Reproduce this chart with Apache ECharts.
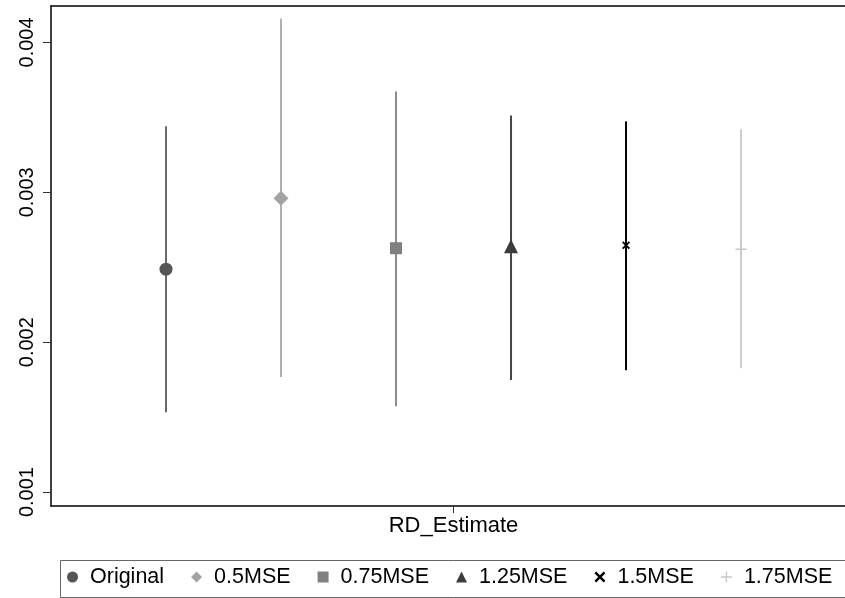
<!DOCTYPE html>
<html>
<head>
<meta charset="utf-8">
<script src="https://cdn.jsdelivr.net/npm/echarts@6/dist/echarts.min.js"></script>
<style>
  html, body { margin: 0; padding: 0; background: #fff; }
  #main { width: 845px; height: 598px; }
</style>
</head>
<body>
<div id="main"></div>
<script>
// 各规格名称与估计值
var names = ['Original', '0.5MSE', '0.75MSE', '1.25MSE', '1.5MSE', '1.75MSE'];
var slots = [1, 2, 3, 4, 5, 6];
var estimates = [0.002487, 0.00296, 0.002627, 0.00264, 0.002647, 0.00262];
var lowerCI = [0.001533, 0.001767, 0.001573, 0.001747, 0.001813, 0.001827];
var upperCI = [0.00344, 0.00416, 0.003673, 0.003513, 0.003473, 0.00342];
var yTicks = [0.001, 0.002, 0.003, 0.004];
var xLabel = 'RD_Estimate';

var colors = ['#555555', '#a3a3a3', '#808080', '#3c3c3c', '#000000', '#c8c8c8'];
var lineColors = ['#6a6a6a', '#b0b0b0', '#8c8c8c', '#444444', '#000000', '#cccccc'];
var symbols = [
	'circle',
	'diamond',
	'rect',
	'triangle',
	'path://M0,1.6L1.6,0L5,3.4L8.4,0L10,1.6L6.6,5L10,8.4L8.4,10L5,6.6L1.6,10L0,8.4L3.4,5Z',
	'path://M4.4,0H5.6V4.4H10V5.6H5.6V10H4.4V5.6H0V4.4H4.4Z'
];
var sizes = [13, 15, 12, 14, 8, 11];

var series = [];
for (var i = 0; i < names.length; i++) {
	// 置信区间竖线
	series.push({
		name: 'ci_' + i,
		type: 'line',
		data: [[slots[i], lowerCI[i]], [slots[i], upperCI[i]]],
		symbol: 'none',
		silent: true,
		lineStyle: { color: lineColors[i], width: 2 },
		z: 2
	});
	// 点估计
	series.push({
		name: names[i],
		type: 'scatter',
		data: [[slots[i], estimates[i]]],
		symbol: symbols[i],
		symbolSize: sizes[i],
		itemStyle: { color: colors[i], opacity: 1 },
		z: 3
	});
}

var font = 'Liberation Sans, Arial';
var myChart = echarts.init(document.getElementById('main'));
var option = {
	backgroundColor: '#fff',
	animation: false,
	grid: { left: 51, top: 6, right: 0, bottom: 92 },
	xAxis: [{
		type: 'value',
		min: 0, max: 6.904,
		splitLine: { show: false },
		axisLine: { lineStyle: { color: '#000', width: 1.5 } },
		axisTick: { customValues: [3.5], length: 7, lineStyle: { color: '#333' } },
		axisLabel: {
			customValues: [3.5],
			formatter: function() { return xLabel; },
			color: '#000', fontSize: 22, fontFamily: font, margin: 9
		}
	}, {
		// 顶部边框
		type: 'value',
		position: 'top',
		min: 0, max: 6.904,
		splitLine: { show: false },
		axisLine: { show: true, lineStyle: { color: '#000', width: 1.5 } },
		axisTick: { show: false },
		axisLabel: { show: false }
	}],
	yAxis: {
		type: 'value',
		min: 0.000907, max: 0.004243,
		splitLine: { show: false },
		axisLine: { show: true, lineStyle: { color: '#000', width: 1.5 } },
		axisTick: { customValues: yTicks, length: 8, lineStyle: { color: '#333' } },
		axisLabel: {
			customValues: yTicks,
			rotate: 90,
			formatter: function(v) { return v.toFixed(3); },
			color: '#000', fontSize: 20, fontFamily: font, margin: 14
		}
	},
	// 图例外框
	graphic: [{
		type: 'rect',
		left: 58, top: 558,
		shape: { width: 820, height: 37 },
		style: { fill: 'none', stroke: '#666', lineWidth: 1 },
		silent: true
	}],
	legend: {
		data: names,
		left: 67, top: 566,
		padding: 0,
		itemGap: 27,
		itemWidth: 11, itemHeight: 11,
		textStyle: {
			color: '#000', fontSize: 21.5, fontFamily: font,
			padding: [0, 0, 0, 7]
		}
	},
	series: series
};
myChart.setOption(option);
</script>
</body>
</html>
